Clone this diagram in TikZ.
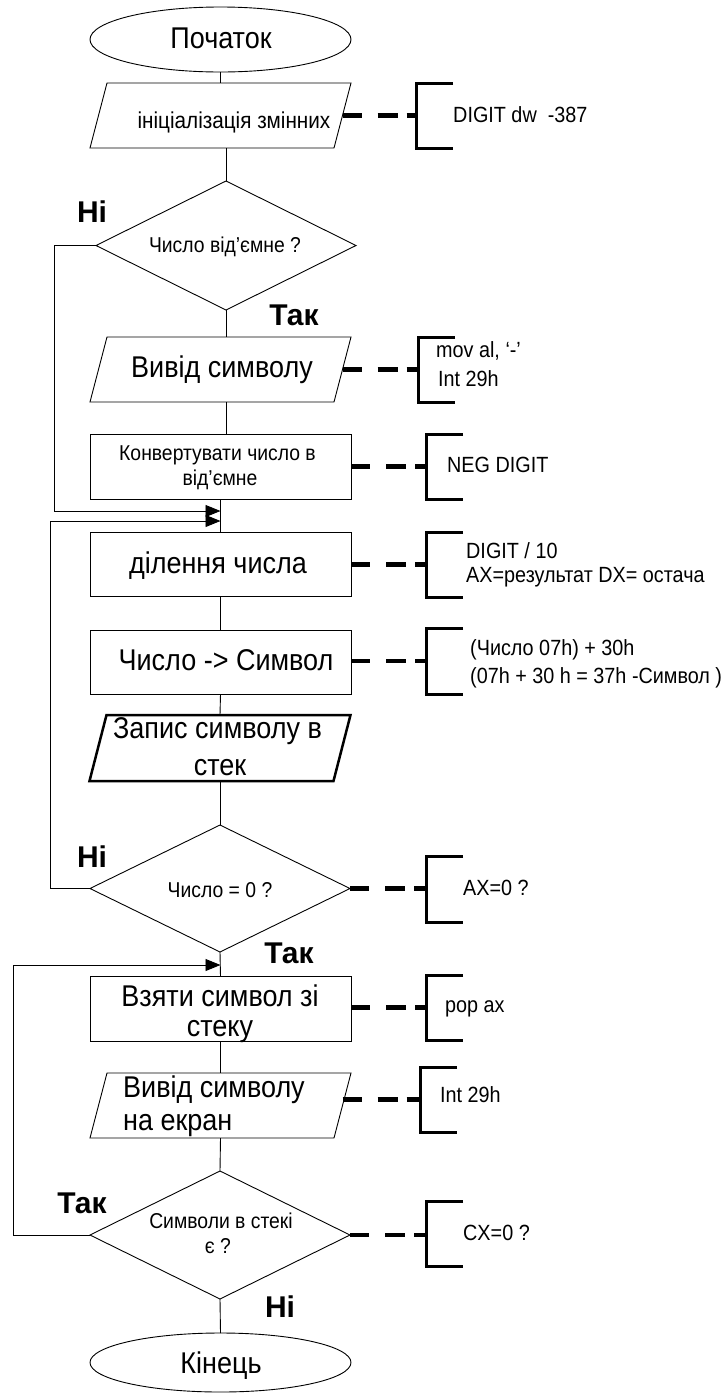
\documentclass[tikz,border=0pt]{standalone}
\usepackage{fontspec}
\setmainfont{Liberation Sans}
\newfontfamily\nf{Liberation Sans}[FakeStretch=0.9]
\usetikzlibrary{shapes.geometric,arrows.meta,calc}
\newcommand\parapath[2][]{\draw[shp,#1] ([xshift=8.5pt]#2.north west) -- ([xshift=8.5pt]#2.north east) -- ([xshift=-8.5pt]#2.south east) -- ([xshift=-8.5pt]#2.south west) -- cycle;}
\newcommand\brackdraw[1]{\draw[brk] (#1.north east) -- (#1.north west) -- (#1.south west) -- (#1.south east);}
\begin{document}
\begin{tikzpicture}[x=1pt,y=-1pt,
  ln/.style={line width=0.9pt},
  shp/.style={draw, line width=0.9pt},
  term/.style={draw, line width=0.9pt, ellipse, inner sep=0pt, outer sep=0pt, minimum width=261pt, minimum height=65pt},
  proc/.style={draw, line width=0.9pt, rectangle, inner sep=0pt, outer sep=0pt, minimum width=261pt, minimum height=65pt},
  dec/.style={draw, line width=0.9pt, diamond, inner sep=0pt, outer sep=0pt, minimum width=260pt, minimum height=128pt},
  pbox/.style={inner sep=0pt, outer sep=0pt, minimum width=244pt, minimum height=65pt},
  brnode/.style={inner sep=0pt, outer sep=0pt, minimum width=37pt, minimum height=65pt},
  brk/.style={line width=3pt},
  dsh/.style={line width=4.5pt, dash pattern=on 19pt off 16pt on 20pt off 9pt on 12pt},
  arr/.style={line width=0.9pt, -{Triangle[length=15pt,width=12pt]}},
  tbig/.style={inner sep=0pt, anchor=base, font=\nf\fontsize{30}{36}\selectfont},
  tbigw/.style={inner sep=0pt, anchor=base west, font=\nf\fontsize{30}{36}\selectfont},
  tmid/.style={inner sep=0pt, anchor=base, font=\nf\fontsize{23}{27}\selectfont},
  tsm/.style={inner sep=0pt, anchor=base, font=\nf\fontsize{21.5}{25}\selectfont},
  an/.style={inner sep=0pt, anchor=base west, font=\nf\fontsize{22}{26}\selectfont},
  yn/.style={inner sep=0pt, anchor=base, font=\bfseries\fontsize{30}{36}\selectfont}
]
\useasboundingbox (0,0) rectangle (723,1393);

% ---- shapes ----
\node[term] (start) at (220.5,39.5) {};
\node[pbox] (init) at (220.5,115.5) {};
\node[dec, minimum height=129pt] (d1) at (226,245.5) {};
\node[pbox] (vy1) at (220.5,369.5) {};
\node[proc] (konv) at (220.5,466.5) {};
\node[proc, minimum height=64pt] (dil) at (220.5,564) {};
\node[proc, minimum height=64pt] (cs) at (220.5,662) {};
\node[pbox, minimum height=66pt] (zap) at (220,748) {};
\node[dec, minimum height=127pt] (d2) at (220,888.5) {};
\node[proc] (vz) at (220.5,1009) {};
\node[pbox] (vy2) at (220.5,1105.5) {};
\node[dec] (d3) at (220,1235) {};
\node[term, minimum height=59pt] (end) at (220.5,1362.5) {};

\parapath{init}
\parapath{vy1}
\parapath[line width=2.5pt]{zap}
\parapath{vy2}

% ---- texts in shapes ----
\node[tbig] (t-start) at (221,48) {Початок};
\node[tmid] (t-init) at (234,128) {ініціалізація змінних};
\node[tsm] (t-d1) at (225,252) {Число від’ємне ?};
\node[tbig] (t-vy1) at (222,377) {Вивід символу};
\node[tsm] (t-konv1) at (217.5,460) {Конвертувати число в};
\node[tsm] (t-konv2) at (220,485) {від’ємне};
\node[tbig] (t-dil) at (218,573) {ділення числа};
\node[tbig] (t-cs) at (226,670) {Число -> Символ};
\node[tbig] (t-zap1) at (217.5,738) {Запис символу в};
\node[tbig] (t-zap2) at (220,775) {стек};
\node[tsm] (t-d2) at (220,897) {Число = 0 ?};
\node[tbig] (t-vz1) at (220,1006) {Взяти символ зі};
\node[tbig] (t-vz2) at (220,1036) {стеку};
\node[tbigw] (t-vy21) at (123,1097) {Вивід символу};
\node[tbigw] (t-vy22) at (123,1130) {на екран};
\node[tsm] (t-d31) at (221,1228) {Символи в стекі};
\node[tsm] (t-d32) at (218,1253) {є ?};
\node[tbig] (t-end) at (221,1373) {Кінець};

% ---- yes / no labels ----
\node[yn] (n1) at (92,222) {Ні};
\node[yn] (y1) at (294,325) {Так};
\node[yn] (n2) at (92,867) {Ні};
\node[yn] (y2) at (289,963) {Так};
\node[yn] (y3) at (82,1213) {Так};
\node[yn] (n3) at (280,1317) {Ні};

% ---- main flow ----
\draw[ln] (start.south) -- (init.north);
\draw[ln] ([xshift=5.5pt]init.south) -- (d1.north);
\draw[ln] (d1.south) -- ([xshift=5.5pt]vy1.north);
\draw[ln] ([xshift=5.5pt]vy1.south) -- ([xshift=5.5pt]konv.north);
\draw[ln] (konv.south) -- (dil.north);
\draw[ln] (dil.south) -- (cs.north);
\draw[ln] (cs.south) -- (zap.north);
\draw[ln] (zap.south) -- (d2.north);
\draw[ln] (d2.south) -- (vz.north);
\draw[ln] (vz.south) -- (vy2.north);
\draw[ln] (vy2.south) -- (d3.north);
\draw[ln] (d3.south) -- (end.north);

% ---- loops ----
\coordinate (j1) at (220.5,511);
\coordinate (j2) at (220.5,521);
\coordinate (j3) at (220.5,965);
\draw[arr] (d1.west) -- ++(-42,0) |- (j1);
\draw[arr] (d2.west) -- ++(-40,0) |- (j2);
\draw[arr] (d3.west) -- ++(-77,0) |- (j3);

% ---- annotations ----
\node[brnode] (b1) at (434.5,115.5) {};
\node[brnode] (b2) at (436.5,369.5) {};
\node[brnode] (b3) at (444.5,466.5) {};
\node[brnode] (b4) at (444.5,564.5) {};
\node[brnode, minimum height=66pt] (b5) at (444.5,661) {};
\node[brnode, minimum height=66pt] (b6) at (444.5,889) {};
\node[brnode] (b7) at (444.5,1007.5) {};
\node[brnode] (b8) at (438.5,1099.5) {};
\node[brnode] (b9) at (444.5,1233.5) {};
\foreach \b in {b1,b2,b3,b4,b5,b6,b7,b8,b9} {\brackdraw{\b}}

\draw[dsh] (b1.west -| init.east) -- (b1.west);
\draw[dsh] (b2.west -| vy1.east) -- (b2.west);
\draw[dsh] (b3.west -| konv.east) -- (b3.west);
\draw[dsh] (b4.west -| dil.east) -- (b4.west);
\draw[dsh] (b5.west -| cs.east) -- (b5.west);
\draw[dsh] (d2.east) -- (b6.west |- d2.east);
\draw[dsh] (b7.west -| vz.east) -- (b7.west);
\draw[dsh] (b8.west -| vy2.east) -- (b8.west);
\draw[dsh] (d3.east) -- (b9.west |- d3.east);

\node[an] (a1) at (453,122) {DIGIT dw \ -387};
\node[an] (a2a) at (436,357) {mov al, ‘-’};
\node[an] (a2b) at (438,386) {Int 29h};
\node[an] (a3) at (447,472) {NEG DIGIT};
\node[an] (a4a) at (466,558) {DIGIT / 10};
\node[an] (a4b) at (466,582) {AX=результат DX= остача};
\node[an] (a5a) at (470,655) {(Число 07h) + 30h};
\node[an] (a5b) at (470,683) {(07h + 30 h = 37h -Символ )};
\node[an] (a6) at (463,895) {AX=0 ?};
\node[an] (a7) at (445,1012) {pop ax};
\node[an] (a8) at (440,1102) {Int 29h};
\node[an] (a9) at (463,1240) {CX=0 ?};
\end{tikzpicture}
\end{document}
